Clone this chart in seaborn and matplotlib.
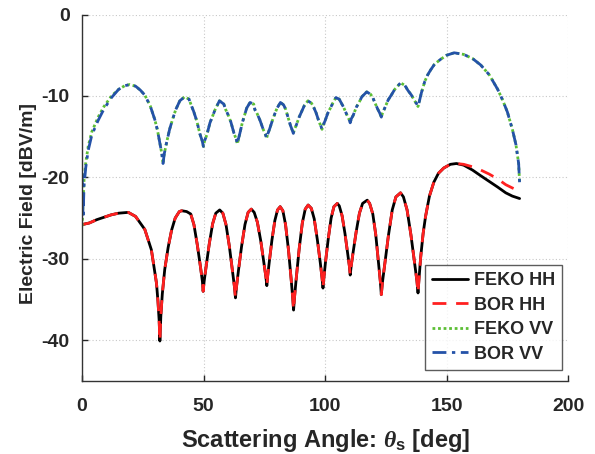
import numpy as np
import pandas as pd
import matplotlib
matplotlib.use("Agg")
import matplotlib.pyplot as plt
import seaborn as sns


# -----------------------
# Data
# -----------------------

hh_angle = [
    0, 3, 6, 9, 12, 15, 19, 22, 25.8, 28.5, 30.6, 31.2, 31.7, 32,
    32.4, 33, 34, 35.4, 36.8, 38.3, 40, 41, 43, 44.7, 46.0, 47.4, 48.7, 49.5, 49.8,
    50.2, 51.0, 52.3, 53.7, 55.0, 56.6, 57.9, 59.2, 60.6, 61.9, 62.7, 63.1,
    63.5, 64.3, 65.6, 67.0, 68.3, 69.6, 70.8, 72.1, 73.5, 74.8, 75.6, 76.0,
    76.35, 77.0, 78.1, 79.3, 80.4, 81.5, 82.6, 83.7, 84.9, 86.0, 86.65, 87.0,
    87.37, 88.1, 89.3, 90.6, 91.8, 93.0, 94.3, 95.5, 96.8, 98.0, 98.73, 99.1,
    99.45, 100.1, 101.25, 102.45, 103.6, 105.0, 105.8, 106.95, 108.15, 109.27, 109.96, 110.3,
    110.7, 111.5, 112.75, 114.1, 115.4, 117.3, 118.3, 119.6, 120.8, 121.95, 122.7, 123.1,
    123.56, 124.5, 126.0, 127.6, 129.1, 131.0, 132.2, 133.7, 135.3, 136.8, 137.74, 138.2,
    138.6, 139.3, 140.3, 141.3, 142.9, 144.7, 146.6, 148.8, 151.5, 154,
    157, 160.6, 164, 167.5, 171, 174.3, 177, 180
]

feko_hh = [
    -25.8, -25.6, -25.2, -24.9, -24.6, -24.4, -24.3, -24.8, -26.4, -28.9, -33.0, -35.2, -37.6, -40.1,
    -37.0, -34.3, -31.3, -28.6, -26.5, -25.0, -24.2, -24.1, -24.2, -24.5, -25.8, -28.3, -31.0, -32.8, -34.0,
    -32.8, -31.0, -28.2, -25.7, -24.4, -24.0, -24.4, -25.8, -28.5, -31.6, -33.5, -34.8,
    -33.5, -31.5, -28.5, -25.8, -24.3, -23.9, -24.3, -25.5, -27.8, -30.5, -32.2, -33.3,
    -32.1, -30.4, -27.7, -25.3, -24.0, -23.6, -24.1, -25.8, -28.9, -32.5, -34.8, -36.3,
    -34.8, -32.4, -28.8, -25.6, -23.9, -23.4, -23.8, -25.1, -27.7, -30.5, -32.4, -33.6,
    -32.4, -30.5, -27.6, -25.0, -23.6, -23.2, -23.5, -24.7, -26.9, -29.4, -30.9, -32.0,
    -30.9, -29.2, -26.7, -24.4, -23.2, -22.8, -23.2, -24.5, -27.0, -30.5, -32.8, -34.4,
    -32.9, -30.7, -27.2, -24.0, -22.4, -21.9, -22.4, -24.0, -27.1, -30.5, -32.7, -34.2,
    -32.5, -29.8, -26.9, -24.8, -22.3, -20.6, -19.5, -18.85, -18.4, -18.3,
    -18.5, -19.1, -19.8, -20.5, -21.2, -21.9, -22.3, -22.6
]

# BOR HH follows FEKO HH up to the main peak, then sits a little higher
bor_hh_tail = [-18.4, -18.7, -19.1, -19.6, -20.2, -20.9, -21.3, -21.7]
bor_hh = feko_hh[:len(feko_hh) - len(bor_hh_tail)] + bor_hh_tail

vv_angle = [
    0, 0.4, 0.8, 1.5, 2.5, 4, 6.6, 9, 12.1, 15, 17.5, 19.6, 22, 24, 25.8, 28, 29.9, 31, 32, 32.8, 33.3,
    33.8, 34.7, 36, 37.3, 38.5, 40.2, 42.2, 44, 45.1, 45.9, 47.2, 48.5, 49.4, 49.9,
    50.4, 51.3, 52.6, 53.9, 54.7, 56.5, 58.3, 59.1, 59.9, 61.2, 62.5, 63.4, 63.9,
    64.3, 64.9, 65.9, 66.9, 67.7, 69.1, 70.6, 71.1, 71.9, 73.2, 74.5, 75.4, 75.9,
    76.35, 77.1, 78.3, 79.4, 80.2, 81.6, 82.9, 83.7, 84.5, 85.7, 86.45, 86.9,
    87.35, 88.1, 89.3, 90.5, 91.4, 92.9, 94.4, 95.3, 96.3, 97.5, 98.25, 98.7,
    99.15, 99.9, 101.1, 102.3, 103.1, 104.4, 105.8, 106.7, 107.6, 108.9, 109.85, 110.3,
    110.75, 111.5, 112.8, 114.1, 115.1, 117.1, 118.7, 119.6, 120.4, 121.6, 122.6, 123.1,
    123.6, 124.5, 125.9, 127.4, 128.6, 131, 132.8, 134, 135.5, 136.8, 137.7, 138.2,
    138.8, 139.6, 141, 142.2, 143.4, 145, 147.5, 150, 153.1, 157, 160.6, 164, 167.5,
    171, 173, 175, 177.1, 178.5, 179.6, 180
]

feko_vv = [
    -26.0, -23.0, -20.3, -18.2, -16.2, -14.4, -12.6, -11.3, -10.0, -9.2, -8.75, -8.6, -8.8, -9.3, -9.9, -11.2, -12.9, -14.2, -15.8, -17.1, -18.3,
    -17.1, -15.8, -14.1, -12.8, -11.7, -10.6, -10.1, -10.4, -11.3, -11.9, -13.1, -14.7, -15.5, -16.2,
    -15.5, -14.8, -13.3, -12.3, -11.7, -10.6, -11.0, -11.7, -12.2, -13.2, -14.6, -15.3, -15.9,
    -15.3, -14.6, -13.3, -12.3, -11.5, -10.8, -11.0, -11.7, -12.1, -13.0, -14.1, -14.7, -15.2,
    -14.7, -14.1, -13.0, -12.1, -11.5, -10.8, -11.1, -11.6, -12.4, -13.6, -14.2, -14.6,
    -14.1, -13.6, -12.6, -11.8, -11.2, -10.6, -10.9, -11.4, -12.1, -13.2, -13.7, -14.1,
    -13.6, -13.1, -12.1, -11.4, -10.9, -10.2, -10.4, -10.9, -11.4, -12.3, -12.9, -13.3,
    -12.8, -12.4, -11.4, -10.7, -10.1, -9.5, -9.8, -10.2, -10.8, -11.6, -12.2, -12.6,
    -12.1, -11.5, -10.5, -9.8, -9.2, -8.4, -8.7, -9.3, -9.9, -10.6, -11.0, -11.3,
    -10.6, -9.6, -8.2, -7.4, -6.8, -6.1, -5.5, -5.0, -4.7, -4.9, -5.4, -6.2, -7.4,
    -9.2, -10.5, -12.0, -14.2, -16.0, -18.3, -20.7
]

# BOR VV differs only near broadside
bor_vv_head = [-19.5, -25.0, -21.0, -18.8, -16.7, -14.8, -13.0, -11.6, -10.2]
bor_vv = bor_vv_head + feko_vv[len(bor_vv_head):]


def main():

    sns.set_style("ticks")
    plt.rcParams["font.family"] = ["Liberation Sans", "DejaVu Sans"]
    plt.rcParams["font.weight"] = "bold"
    plt.rcParams["axes.unicode_minus"] = False
    plt.rcParams["mathtext.fontset"] = "custom"
    plt.rcParams["mathtext.it"] = "Liberation Serif:italic"
    plt.rcParams["mathtext.bf"] = "Liberation Sans:bold"
    plt.rcParams["mathtext.rm"] = "Liberation Sans:bold"

    fig = plt.figure(figsize=(5.95, 4.54), dpi=100)
    ax = fig.add_axes([0.138, 0.161, 0.817, 0.807])

    series = [
        (hh_angle, feko_hh, "FEKO HH", "black", "-"),
        (hh_angle, bor_hh, "BOR HH", "#ff2020", (0, (5, 3.5))),
        (vv_angle, feko_vv, "FEKO VV", "#5cbf35", (0, (1, 1))),
        (vv_angle, bor_vv, "BOR VV", "#2452a8", (0, (5, 2, 1.2, 2))),
    ]

    for x, y, name, colour, style in series:
        df = pd.DataFrame({"angle": x, "field": y})
        sns.lineplot(
            data=df,
            x="angle",
            y="field",
            ax=ax,
            color=colour,
            linestyle=style,
            linewidth=2,
            label=name,
            estimator=None,
            sort=False
        )

    ax.set_xlim(0, 200)
    ax.set_ylim(-45, 0)
    ax.set_xticks([0, 50, 100, 150, 200])
    ax.set_yticks([0, -10, -20, -30, -40])

    ax.grid(True, linestyle=(0, (1, 2)), color="#c8c8c8", linewidth=0.8)
    ax.tick_params(direction="in", labelsize=14, length=4, width=1)
    ax.tick_params(axis="x", pad=12)
    ax.tick_params(axis="y", pad=9)
    for lab in ax.get_xticklabels() + ax.get_yticklabels():
        lab.set_fontweight("bold")

    sns.despine(ax=ax)
    for side in ["left", "bottom"]:
        ax.spines[side].set_linewidth(1)
        ax.spines[side].set_color("#333333")

    ax.set_xlabel(r"Scattering Angle: $\theta_\mathbf{s}$ [deg]",
                  fontsize=17, fontweight="bold")
    ax.set_ylabel("Electric Field [dBV/m]",
                  fontsize=14, fontweight="bold")
    ax.xaxis.set_label_coords(0.5, -0.125)
    ax.yaxis.set_label_coords(-0.093, 0.485)

    leg = ax.legend(
        loc="lower right",
        bbox_to_anchor=(0.995, 0.02),
        fontsize=13,
        handlelength=2.0,
        handletextpad=0.3,
        labelspacing=0.42,
        borderpad=0.4,
        borderaxespad=0.2,
        frameon=True,
        fancybox=False,
        edgecolor="#333333"
    )
    leg.get_frame().set_linewidth(1)
    for t in leg.get_texts():
        t.set_fontweight("bold")

    fig.savefig("out.png", dpi=100)
    plt.close(fig)


if __name__ == "__main__":
    main()
